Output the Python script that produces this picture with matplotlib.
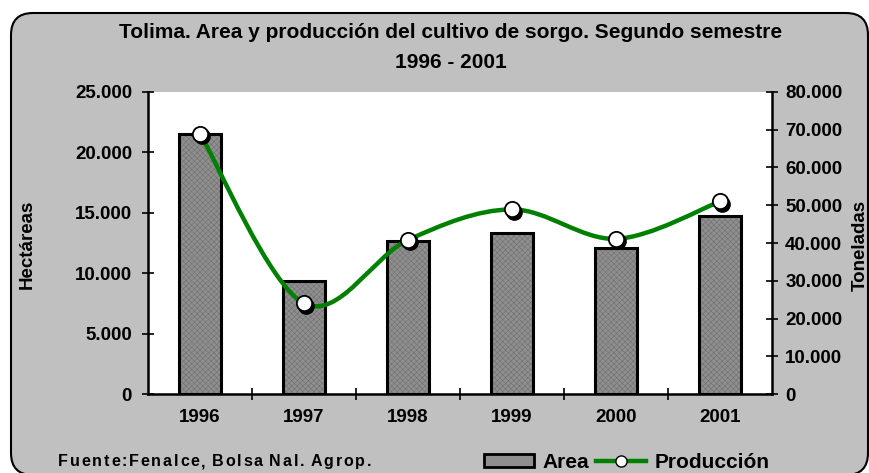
import numpy as np
import matplotlib
matplotlib.use('Agg')
from matplotlib import pyplot as plt
from matplotlib.patches import FancyBboxPatch, Patch
from matplotlib.lines import Line2D
from matplotlib.path import Path
from matplotlib.patches import PathPatch
from matplotlib.transforms import IdentityTransform, offset_copy
from matplotlib.ticker import FuncFormatter

plt.rcParams['font.family'] = ['Liberation Sans', 'DejaVu Sans']
plt.rcParams['font.weight'] = 'bold'
plt.rcParams['hatch.linewidth'] = 0.4

# data
years = ['1996', '1997', '1998', '1999', '2000', '2001']
area = [21500, 9350, 12650, 13300, 12050, 14700]          # hectareas
produccion = [68900, 24000, 40800, 48900, 41100, 51000]   # toneladas

title1 = 'Tolima. Area y producción del cultivo de sorgo. Segundo semestre'
title2 = '1996 - 2001'
footer = 'Fuente:Fenalce, Bolsa Nal. Agrop.'

W, H = 870, 473
fig = plt.figure(figsize=(W / 100, H / 100), dpi=100, facecolor='white')

# grey rounded frame
frame = FancyBboxPatch((11, -2), 857, 462, boxstyle='round,pad=0,rounding_size=22',
                       transform=IdentityTransform(), facecolor='#c0c0c0',
                       edgecolor='black', linewidth=1.5, zorder=-5)
fig.add_artist(frame)

ax = fig.add_axes([148 / W, 1 - 394 / H, 624 / W, 302 / H])
ax.set_facecolor('white')
ax2 = ax.twinx()

x = np.arange(len(years))
bw = 0.40
ax.bar(x, area, width=bw, color='#8f8f8f', edgecolor='#707070', hatch='xxxxxx',
       linewidth=0, zorder=2)
ax.bar(x, area, width=bw, facecolor='none', edgecolor='black', linewidth=2.2, zorder=3)

ax.set_xlim(-0.5, 5.5)
ax.set_ylim(0, 25000)
ax2.set_ylim(0, 80000)

thousands = FuncFormatter(lambda v, p: f'{v:,.0f}'.replace(',', '.'))
ax.yaxis.set_major_formatter(thousands)
ax2.yaxis.set_major_formatter(thousands)
ax.set_yticks(np.arange(0, 25001, 5000))
ax2.set_yticks(np.arange(0, 80001, 10000))

ax.set_xticks(x[:-1] + 0.5)
ax.set_xticklabels([])
ax.set_xticks(x, labels=years, minor=True)
ax.tick_params(axis='x', which='major', direction='inout', length=9, width=1.2)
ax.tick_params(axis='x', which='minor', length=0, pad=11, labelsize=13.5)
ax.tick_params(axis='y', direction='inout', length=9, width=1.2, labelsize=13.5, pad=7)
ax2.tick_params(axis='y', direction='inout', length=9, width=1.2, labelsize=13.5, pad=5)

for s in ['top', 'right']:
    ax.spines[s].set_visible(False)
for s in ['top', 'left', 'bottom']:
    ax2.spines[s].set_visible(False)
for sp in [ax.spines['left'], ax.spines['bottom'], ax2.spines['right']]:
    sp.set_linewidth(1.8)

# smoothed production line (bezier through the data points)
pts = np.column_stack([x, produccion]).astype(float)
verts = [pts[0]]
codes = [Path.MOVETO]
n = len(pts)
for i in range(n - 1):
    p_prev = pts[max(i - 1, 0)]
    p_next2 = pts[min(i + 2, n - 1)]
    c1 = pts[i] + (pts[i + 1] - p_prev) / 6
    c2 = pts[i + 1] - (p_next2 - pts[i]) / 6
    verts += [c1, c2, pts[i + 1]]
    codes += [Path.CURVE4] * 3
ax2.add_patch(PathPatch(Path(verts, codes), facecolor='none', edgecolor='#008000',
                        linewidth=3.2, zorder=3, capstyle='round'))

shadow = offset_copy(ax2.transData, fig=fig, x=2.5, y=-2.5, units='dots')
ax2.plot(x, produccion, 'o', color='black', markersize=11, transform=shadow, zorder=4)
ax2.plot(x, produccion, 'o', markerfacecolor='white', markeredgecolor='black',
         markeredgewidth=1.3, markersize=11, zorder=5)

# axis titles
fig.text(27 / W, 1 - 244 / H, 'Hectáreas', rotation=90, ha='center', va='center', fontsize=13.5)
fig.text(860 / W, 1 - 245 / H, 'Toneladas', rotation=90, ha='center', va='center', fontsize=13.5)

# chart title
fig.text(451 / W, 1 - 32 / H, title1, ha='center', va='center', fontsize=15)
fig.text(451 / W, 1 - 62 / H, title2, ha='center', va='center', fontsize=15)

# legend
handles = [Patch(facecolor='#8f8f8f', edgecolor='black', linewidth=2),
           Line2D([], [], color='#008000', linewidth=3.2, marker='o', markersize=8,
                  markerfacecolor='white', markeredgecolor='black')]
fig.legend(handles, ['Area', 'Producción'], loc='center', ncol=2,
           bbox_to_anchor=(627 / W, 1 - 462 / H), frameon=False, fontsize=15,
           handlelength=2.4, handletextpad=0.4, columnspacing=0.35, handleheight=0.6,
           borderpad=0)

# source note, drawn letter by letter to get the wide spacing
prev = fig.text(58 / W, 1 - 469 / H, footer[0], fontsize=11.5, va='bottom')
extra = 0
for ch in footer[1:]:
    if ch == ' ':
        extra += 3.2
        continue
    prev = ax.annotate(ch, xy=(1, 0), xycoords=prev, xytext=(1.3 + extra, 0),
                       textcoords='offset points', va='bottom', ha='left',
                       fontsize=11.5, annotation_clip=False)
    extra = 0

plt.savefig('out.png', dpi=100, facecolor='white')
